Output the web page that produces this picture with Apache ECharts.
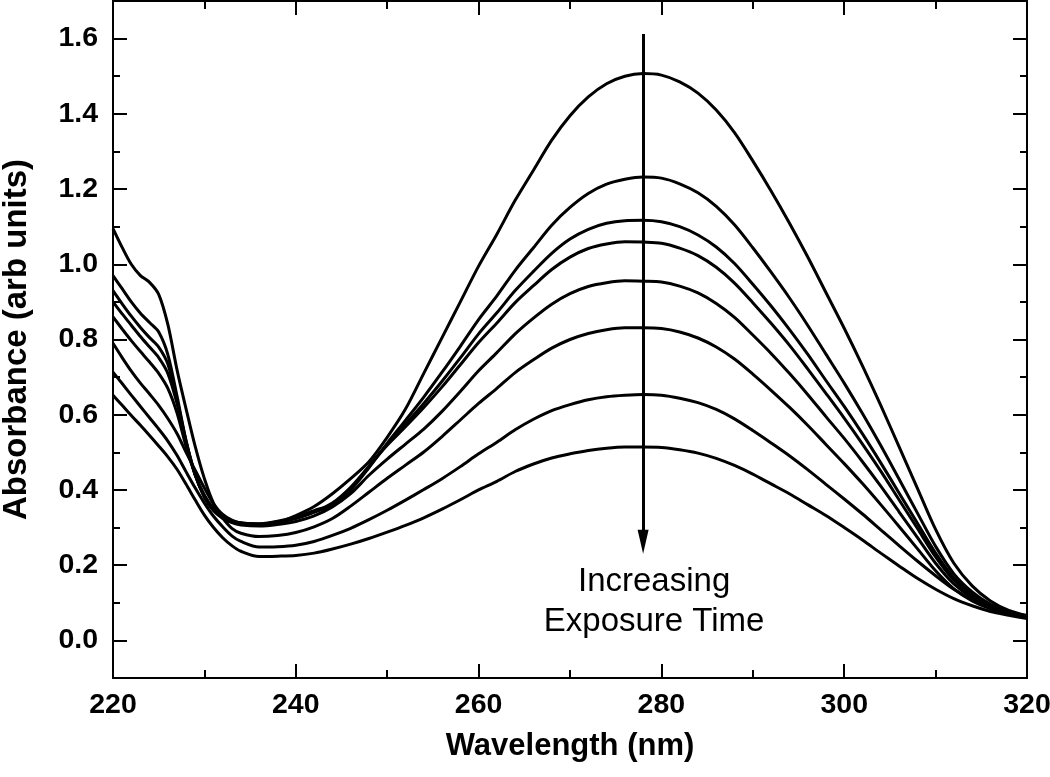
<!DOCTYPE html>
<html>
<head>
<meta charset="utf-8">
<script src="https://cdn.jsdelivr.net/npm/echarts@6/dist/echarts.min.js"></script>
<style>html,body{margin:0;padding:0;background:#fff}#c{width:1050px;height:777px}</style>
</head>
<body>
<div id="c"></div>
<script>
const wavelengths = [220,221,222,223,224,225,226,227,228,229,230,231,232,233,234,236,238,240,242,244,246,248,250,252,254,256,258,260,262,264,266,268,270,272,274,276,278,280,282,284,286,288,290,292,294,296,298,300,302,304,306,308,310,312,314,316,318,320];

const absorbance1 = [1.095,1.045,1.0,0.97,0.952,0.92,0.84,0.72,0.615,0.515,0.43,0.365,0.335,0.32,0.312,
  0.306,0.313,0.332,0.356,0.39,0.43,0.475,0.54,0.615,0.71,0.805,0.9,0.995,1.08,1.17,1.25,1.33,1.395,1.445,1.48,1.5,
  1.507,1.503,1.485,1.455,1.41,1.35,1.275,1.195,1.11,1.02,0.925,0.83,0.73,0.625,0.515,0.405,0.295,0.205,0.145,0.105,0.08,0.066];
const absorbance2 = [0.97,0.935,0.90,0.87,0.845,0.82,0.76,0.65,0.53,0.44,0.38,0.345,0.325,0.315,0.311,
  0.310,0.317,0.328,0.345,0.362,0.400,0.459,0.524,0.585,0.647,0.713,0.782,0.853,0.916,0.984,1.044,1.104,1.151,1.188,1.213,1.226,
  1.232,1.229,1.214,1.190,1.154,1.105,1.044,0.979,0.911,0.838,0.761,0.684,0.603,0.518,0.429,0.339,0.250,0.177,0.129,0.096,0.076,0.065];
const absorbance3 = [0.93,0.895,0.862,0.832,0.805,0.78,0.735,0.64,0.53,0.44,0.385,0.35,0.33,0.318,0.312,
  0.309,0.315,0.325,0.341,0.361,0.402,0.462,0.522,0.575,0.630,0.689,0.751,0.815,0.871,0.930,0.981,1.029,1.067,1.093,1.109,1.116,
  1.117,1.113,1.100,1.078,1.046,1.002,0.947,0.889,0.827,0.761,0.691,0.622,0.549,0.472,0.392,0.312,0.232,0.166,0.122,0.093,0.075,0.064];
const absorbance4 = [0.90,0.868,0.838,0.808,0.78,0.752,0.71,0.63,0.525,0.44,0.385,0.35,0.33,0.318,0.312,
  0.309,0.314,0.324,0.341,0.365,0.407,0.463,0.519,0.568,0.619,0.674,0.733,0.792,0.844,0.898,0.943,0.986,1.019,1.042,1.054,1.060,
  1.059,1.056,1.043,1.023,0.992,0.950,0.898,0.843,0.785,0.722,0.657,0.591,0.522,0.450,0.374,0.298,0.222,0.160,0.119,0.091,0.074,0.064];
const absorbance5 = [0.86,0.828,0.797,0.768,0.74,0.71,0.67,0.605,0.515,0.44,0.382,0.345,0.325,0.313,0.307,
  0.304,0.308,0.316,0.331,0.355,0.390,0.439,0.482,0.522,0.562,0.609,0.662,0.717,0.765,0.815,0.857,0.894,0.922,0.941,0.951,0.956,
  0.955,0.953,0.942,0.924,0.896,0.859,0.812,0.763,0.710,0.654,0.595,0.537,0.475,0.410,0.342,0.274,0.205,0.150,0.113,0.088,0.072,0.064];
const absorbance6 = [0.79,0.752,0.716,0.684,0.655,0.625,0.59,0.55,0.50,0.452,0.405,0.362,0.325,0.298,0.285,
  0.276,0.279,0.287,0.302,0.324,0.357,0.394,0.431,0.466,0.501,0.542,0.586,0.630,0.670,0.712,0.746,0.777,0.800,0.816,0.826,0.831,
  0.831,0.829,0.820,0.804,0.780,0.748,0.708,0.665,0.620,0.572,0.521,0.470,0.417,0.361,0.303,0.244,0.185,0.137,0.105,0.084,0.071,0.063];
const absorbance7 = [0.713,0.683,0.652,0.622,0.592,0.562,0.53,0.492,0.448,0.405,0.365,0.330,0.302,0.278,0.263,
  0.248,0.249,0.253,0.263,0.279,0.298,0.321,0.346,0.373,0.401,0.430,0.462,0.496,0.527,0.560,0.588,0.611,0.627,0.640,0.648,0.652,
  0.654,0.652,0.644,0.632,0.614,0.589,0.558,0.525,0.491,0.454,0.415,0.376,0.336,0.294,0.252,0.211,0.172,0.136,0.108,0.087,0.072,0.063];
const absorbance8 = [0.652,0.625,0.598,0.572,0.545,0.517,0.488,0.455,0.415,0.373,0.333,0.300,0.273,0.252,0.237,
  0.223,0.224,0.226,0.232,0.243,0.256,0.271,0.288,0.306,0.326,0.349,0.374,0.400,0.423,0.449,0.469,0.485,0.496,0.505,0.511,0.514,
  0.514,0.513,0.507,0.498,0.484,0.465,0.442,0.416,0.390,0.361,0.332,0.300,0.267,0.232,0.198,0.165,0.136,0.111,0.092,0.077,0.067,0.058];

const allSeries = [absorbance1,absorbance2,absorbance3,absorbance4,absorbance5,absorbance6,absorbance7,absorbance8];

const yMajorTicks = [0.0,0.2,0.4,0.6,0.8,1.0,1.2,1.4,1.6];
const yMinorTicks = [0.1,0.3,0.5,0.7,0.9,1.1,1.3,1.5];
const xTickLabels = [220,240,260,280,300,320];

const arrowWavelength = 278;
const arrowTop = 1.612;
const arrowBottom = 0.262;
const annotationText = 'Increasing\nExposure Time';

const FONT = '"Liberation Sans", Arial, Helvetica, sans-serif';
const black = '#000';
const axisLineStyle = {color: black, width: 2};

function yAxisDef(pos, values, len, labels, name) {
  return {
    type: 'value', min: -0.1, max: 1.7, position: pos,
    axisLine: {show: true, onZero: false, lineStyle: axisLineStyle},
    axisTick: {show: true, inside: true, length: len, lineStyle: axisLineStyle, customValues: values},
    axisLabel: labels ? {show: true, customValues: values, formatter: v => Number(v).toFixed(1),
      fontSize: 28.5, fontWeight: 'bold', color: black, fontFamily: FONT, margin: 15} : {show: false},
    splitLine: {show: false},
    name: name || '', nameLocation: 'middle', nameGap: 80,
    nameTextStyle: {fontSize: 33, fontWeight: 'bold', color: black, fontFamily: FONT}
  };
}
function xAxisDef(pos, labels, name) {
  return {
    type: 'value', min: 220, max: 320, interval: 20, position: pos,
    axisLine: {show: true, onZero: false, lineStyle: axisLineStyle},
    axisTick: {show: true, inside: true, length: 14, lineStyle: axisLineStyle},
    minorTick: {show: true, splitNumber: 2, length: 8, lineStyle: axisLineStyle},
    axisLabel: labels ? {show: true, fontSize: 28.5, fontWeight: 'bold', color: black, fontFamily: FONT, margin: 13,
      formatter: v => xTickLabels.indexOf(v) >= 0 ? String(v) : ''} : {show: false},
    splitLine: {show: false}, minorSplitLine: {show: false},
    name: name || '', nameLocation: 'middle', nameGap: 53,
    nameTextStyle: {fontSize: 31, fontWeight: 'bold', color: black, fontFamily: FONT}
  };
}

const series = allSeries.map((arr, k) => {
  const s = {
    type: 'line', xAxisIndex: 0, yAxisIndex: 0,
    data: wavelengths.map((w, i) => [w, arr[i]]),
    showSymbol: false, symbol: 'none', smooth: 0.3,
    lineStyle: {color: black, width: 3}, itemStyle: {color: black},
    silent: true, animation: false, z: 3
  };
  if (k === 0) {
    s.markLine = {
      silent: true, animation: false,
      symbol: ['none', 'triangle'], symbolSize: [11, 24],
      lineStyle: {color: black, width: 3, type: 'solid'},
      label: {show: true, position: 'end', formatter: annotationText, distance: 20,
        fontSize: 33, lineHeight: 40, color: black, fontFamily: FONT, padding: [0, 0, 0, 22]},
      data: [[{coord: [arrowWavelength, arrowTop]}, {coord: [arrowWavelength, arrowBottom]}]]
    };
  }
  return s;
});

const chart = echarts.init(document.getElementById('c'), null, {renderer: 'canvas'});
chart.setOption({
  animation: false,
  backgroundColor: '#fff',
  grid: {left: 113, right: 23, top: 1, bottom: 99, containLabel: false, outerBoundsMode: 'none'},
  xAxis: [xAxisDef('bottom', true, 'Wavelength (nm)'), xAxisDef('top', false)],
  yAxis: [
    yAxisDef('left', yMajorTicks, 14, true, 'Absorbance (arb units)'),
    yAxisDef('left', yMinorTicks, 7, false),
    yAxisDef('right', yMajorTicks, 14, false),
    yAxisDef('right', yMinorTicks, 7, false)
  ],
  series: series
});
</script>
</body>
</html>
